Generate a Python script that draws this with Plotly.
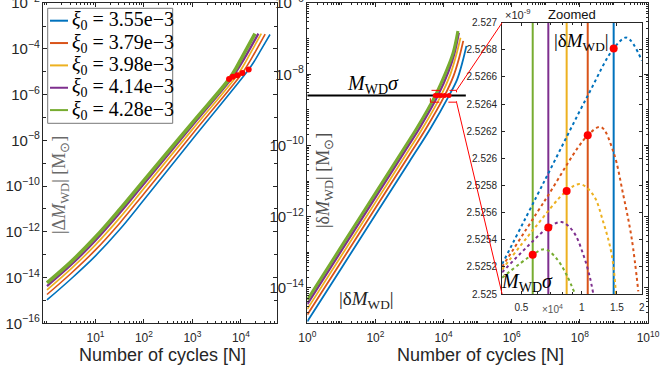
import math
import plotly.graph_objects as go

W, H = 670, 374

# ---------------- data ----------------
colors = ["#0072BD", "#D95319", "#EDB120", "#7E2F8E", "#77AC30"]
xi0_labels = ["3.55e\u22123", "3.79e\u22123", "3.98e\u22123", "4.14e\u22123", "4.28e\u22123"]

# cycles where |dM_WD| reaches M_WD*sigma (blue, orange, yellow, purple, green)
N_cross = [14450, 10720, 8410, 6810, 5690]
dM_cross = [2.52681e-9, 2.52617e-9, 2.52576e-9, 2.52549e-9, 2.52529e-9]
DM_cross = [1.26e-5, 8.91e-6, 7.08e-6, 6.03e-6, 4.79e-6]
M_WD_sigma = 2.525e-9
sigma_line_N = [1, 45000]

# left panel |Delta M_WD|
N_L_blue = [1, 3.16, 10, 31.6, 100, 1000, 14450, 19500, 24500, 39800]
DM_blue = [1.05e-15, 8.91e-15, 8.91e-14, 1.26e-12, 2.51e-11, 1.12e-8, 1.26e-5, 3.24e-5, 7.41e-5, 4.27e-4]
N_L_orange = [1, 3.16, 10, 31.6, 100, 1000, 10720, 14800, 18900, 31600]
DM_orange = [1.82e-15, 1.55e-14, 1.62e-13, 2.40e-12, 4.68e-11, 1.91e-8, 8.91e-6, 2.57e-5, 6.31e-5, 4.47e-4]
N_L_yellow = [1, 3.16, 10, 31.6, 100, 1000, 8410, 11800, 15300, 26300]
DM_yellow = [2.88e-15, 2.46e-14, 2.69e-13, 4.07e-12, 7.94e-11, 3.02e-8, 7.08e-6, 2.19e-5, 5.89e-5, 4.68e-4]
N_L_purple = [1, 3.16, 10, 31.6, 100, 1000, 6810, 9700, 12900, 22900]
DM_purple = [4.27e-15, 3.63e-14, 4.17e-13, 6.61e-12, 1.26e-10, 4.57e-8, 6.03e-6, 1.95e-5, 5.37e-5, 4.68e-4]
N_L_green = [1, 3.16, 10, 31.6, 100, 1000, 5690, 8200, 10800, 19500]
DM_green = [5.89e-15, 5.01e-14, 5.89e-13, 9.55e-12, 1.78e-10, 6.03e-8, 4.79e-6, 1.62e-5, 4.79e-5, 4.68e-4]

# middle panel |delta M_WD|
N_M_blue = [1, 10, 100, 1000, 4070, 14450, 25100, 35500, 46800]
dM_blue = [1.12e-15, 3.55e-14, 1.12e-12, 3.55e-11, 2.95e-10, 2.52681e-9, 7.24e-9, 2.14e-8, 6.31e-8]
N_M_orange = [1, 10, 100, 1000, 3020, 10720, 19500, 28200, 37800]
dM_orange = [1.74e-15, 5.50e-14, 1.74e-12, 5.50e-11, 2.95e-10, 2.52617e-9, 8.91e-9, 2.75e-8, 8.71e-8]
N_M_yellow = [1, 10, 100, 1000, 2370, 8410, 15800, 22900, 31400]
dM_yellow = [2.51e-15, 7.94e-14, 2.51e-12, 7.94e-11, 2.95e-10, 2.52576e-9, 1.00e-8, 3.16e-8, 1.07e-7]
N_M_purple = [1, 10, 100, 1000, 1920, 6810, 13800, 20400, 28000]
dM_purple = [3.47e-15, 1.10e-13, 3.47e-12, 1.10e-10, 2.95e-10, 2.52549e-9, 1.17e-8, 3.63e-8, 1.48e-7]
N_M_green = [1, 10, 100, 1000, 1600, 5690, 12600, 19100, 26300]
dM_green = [4.57e-15, 1.45e-13, 4.57e-12, 1.45e-10, 2.95e-10, 2.52529e-9, 1.38e-8, 4.07e-8, 1.66e-7]

# zoomed inset (dotted curves)
N_Z_blue = [4000, 6550, 10790, 14450, 16790, 20000]
dZ_blue = [2.52522e-9, 2.52584e-9, 2.52647e-9, 2.52681e-9, 2.52689e-9, 2.52672e-9]
N_Z_orange = [4000, 6550, 10720, 12490, 14390, 16140, 17780, 19190]
dZ_orange = [2.52520e-9, 2.52569e-9, 2.52617e-9, 2.52623e-9, 2.52605e-9, 2.52573e-9, 2.52541e-9, 2.52502e-9]
N_Z_yellow = [4000, 5840, 8410, 9810, 11430, 12820, 14130, 14840]
dZ_yellow = [2.52518e-9, 2.52549e-9, 2.52576e-9, 2.52581e-9, 2.52573e-9, 2.52553e-9, 2.52529e-9, 2.52500e-9]
N_Z_purple = [4000, 5270, 6810, 7940, 9080, 10190, 11000, 11430]
dZ_purple = [2.52516e-9, 2.52534e-9, 2.52549e-9, 2.52553e-9, 2.52546e-9, 2.52529e-9, 2.52512e-9, 2.52500e-9]
N_Z_green = [4000, 5690, 6550, 7500, 8410, 9260]
dZ_green = [2.52512e-9, 2.52529e-9, 2.52533e-9, 2.52526e-9, 2.52514e-9, 2.52500e-9]

inset_yticks = [2.525e-9, 2.5252e-9, 2.5254e-9, 2.5256e-9, 2.5258e-9, 2.526e-9,
                2.5262e-9, 2.5264e-9, 2.5266e-9, 2.5268e-9, 2.527e-9]
inset_yticktext = ["2.525", "2.5252", "2.5254", "2.5256", "2.5258", "2.526",
                   "2.5262", "2.5264", "2.5266", "2.5268", "2.527"]
inset_xticks = [5000, 10000, 15000, 20000]
inset_xticktext = ["0.5", "1", "1.5", "2"]
left_xticks = [10, 100, 1000, 10000]
left_xticktext = ["10<sup>1</sup>", "10<sup>2</sup>", "10<sup>3</sup>", "10<sup>4</sup>"]
mid_xticks = [1, 1e2, 1e4, 1e6, 1e8, 1e10]
mid_xticktext = ["10<sup>0</sup>", "10<sup>2</sup>", "10<sup>4</sup>", "10<sup>6</sup>",
                 "10<sup>8</sup>", "10<sup>10</sup>"]

left_N = [N_L_blue, N_L_orange, N_L_yellow, N_L_purple, N_L_green]
left_DM = [DM_blue, DM_orange, DM_yellow, DM_purple, DM_green]
mid_N = [N_M_blue, N_M_orange, N_M_yellow, N_M_purple, N_M_green]
mid_dM = [dM_blue, dM_orange, dM_yellow, dM_purple, dM_green]
zoom_N = [N_Z_blue, N_Z_orange, N_Z_yellow, N_Z_purple, N_Z_green]
zoom_dM = [dZ_blue, dZ_orange, dZ_yellow, dZ_purple, dZ_green]

# ---------------- layout helpers ----------------
def px(x):
    return x / W

def py(y):
    return 1 - y / H

L_xdom = [px(43.3), px(277.3)]
ydom = [py(323.3), py(3.2)]
M_xdom = [px(307.3), px(648)]
Z_xdom = [px(502.1), px(641.9)]
Z_ydom = [py(294), py(22.7)]

L_xr = [-0.076, 4.75]
L_yr = [-16, -2]
M_xr = [0, 10]
M_yr = [-15, -6]
Z_xr = [math.log10(4000), math.log10(20000)]
Z_yr = [2.525e-9, 2.527e-9]

def logpaper(v, dom, rng):
    return dom[0] + (math.log10(v) - rng[0]) / (rng[1] - rng[0]) * (dom[1] - dom[0])

SANS = "Liberation Sans, Arial, sans-serif"
SERIF = "Liberation Serif, Times New Roman, serif"
AX = "#262626"

fig = go.Figure()

lw_left = [1.6, 1.6, 1.7, 2.3, 3.6]
lw_mid = [1.8, 1.8, 1.8, 2.3, 3.0]

for i in range(5):
    fig.add_trace(go.Scatter(x=left_N[i], y=left_DM[i], mode="lines",
                             line=dict(color=colors[i], width=lw_left[i], shape="spline"),
                             xaxis="x", yaxis="y", showlegend=False, hoverinfo="skip"))
fig.add_trace(go.Scatter(x=N_cross, y=DM_cross, mode="markers",
                         marker=dict(color="#ff0000", size=6),
                         xaxis="x", yaxis="y", showlegend=False))

for i in range(5):
    fig.add_trace(go.Scatter(x=mid_N[i], y=mid_dM[i], mode="lines",
                             line=dict(color=colors[i], width=lw_mid[i], shape="spline"),
                             xaxis="x2", yaxis="y2", showlegend=False, hoverinfo="skip"))
fig.add_trace(go.Scatter(x=sigma_line_N, y=[M_WD_sigma, M_WD_sigma], mode="lines",
                         line=dict(color="black", width=2),
                         xaxis="x2", yaxis="y2", showlegend=False))
fig.add_trace(go.Scatter(x=N_cross, y=dM_cross, mode="markers",
                         marker=dict(color="#ff0000", size=5),
                         xaxis="x2", yaxis="y2", showlegend=False))

# inset
for i in range(5):
    fig.add_trace(go.Scatter(x=[N_cross[i], N_cross[i]], y=[Z_yr[0], Z_yr[1]], mode="lines",
                             line=dict(color=colors[i], width=2),
                             xaxis="x3", yaxis="y3", showlegend=False))
for i in range(5):
    fig.add_trace(go.Scatter(x=zoom_N[i], y=zoom_dM[i], mode="lines",
                             line=dict(color=colors[i], width=2, dash="dot", shape="spline"),
                             xaxis="x3", yaxis="y3", showlegend=False))
fig.add_trace(go.Scatter(x=N_cross, y=dM_cross, mode="markers",
                         marker=dict(color="#ff0000", size=8),
                         xaxis="x3", yaxis="y3", showlegend=False))

def axis_common(**kw):
    d = dict(showline=True, linecolor=AX, linewidth=1, mirror="allticks",
             ticks="inside", ticklen=4, tickcolor=AX, tickwidth=1,
             showgrid=False, zeroline=False, ticklabeloverflow="allow",
             tickfont=dict(family=SANS, size=12, color=AX))
    d.update(kw)
    return d

minor_log = dict(ticks="inside", ticklen=2, tickcolor=AX, dtick="D1", showgrid=False)

fig.update_layout(
    width=W, height=H, template="none",
    paper_bgcolor="white", plot_bgcolor="white",
    margin=dict(l=0, r=0, t=0, b=0),
    showlegend=False,
    xaxis=axis_common(type="log", domain=L_xdom, range=L_xr, anchor="y",
                      tickmode="array", tickvals=left_xticks, ticktext=left_xticktext,
                      ticklabelstandoff=3, minor=minor_log),
    yaxis=axis_common(type="log", domain=ydom, range=L_yr, anchor="x",
                      dtick=2, exponentformat="power",
                      minor=dict(ticks="inside", ticklen=3, tickcolor=AX, dtick=1, showgrid=False)),
    xaxis2=axis_common(type="log", domain=M_xdom, range=M_xr, anchor="y2",
                       tickmode="array", tickvals=mid_xticks, ticktext=mid_xticktext,
                       ticklabelstandoff=3, minor=minor_log),
    yaxis2=axis_common(type="log", domain=ydom, range=M_yr, anchor="x2",
                       dtick=2, exponentformat="power", minor=minor_log),
    xaxis3=axis_common(type="log", domain=Z_xdom, range=Z_xr, anchor="y3",
                       tickmode="array", tickvals=inset_xticks, ticktext=inset_xticktext,
                       ticklen=3, ticklabelstandoff=4,
                       tickfont=dict(family=SANS, size=10, color=AX),
                       minor=minor_log),
    yaxis3=axis_common(domain=Z_ydom, range=Z_yr, anchor="x3",
                       tickmode="array", tickvals=inset_yticks, ticktext=inset_yticktext,
                       ticklen=3, ticklabelstandoff=2,
                       tickfont=dict(family=SANS, size=10, color=AX)),
)

shapes = []
annotations = []

# legend (manual)
leg_top, leg_step = 20.7, 22.35
shapes.append(dict(type="rect", xref="paper", yref="paper",
                   x0=px(47.7), x1=px(172.7), y0=py(123.3), y1=py(8.3),
                   line=dict(color="#777777", width=1), fillcolor="white", layer="above"))
for i in range(5):
    yy = leg_top + i * leg_step
    shapes.append(dict(type="line", xref="paper", yref="paper",
                       x0=px(50), x1=px(68), y0=py(yy), y1=py(yy),
                       line=dict(color=colors[i], width=2), layer="above"))
    annotations.append(dict(xref="paper", yref="paper", x=px(69.5), y=py(yy),
                            xanchor="left", yanchor="middle", showarrow=False,
                            text="<i>\u03be</i><sub>0</sub> = " + xi0_labels[i],
                            font=dict(family=SERIF, size=20, color="black")))

# zoom rectangle and connectors
rx0, rx1, ry0, ry1 = 4100, 24000, 1.65e-9, 3.55e-9
shapes.append(dict(type="rect", xref="x2", yref="y2", x0=rx0, x1=rx1, y0=ry0, y1=ry1,
                   line=dict(color="#ff0000", width=1, dash="dash"), layer="above"))
rxp = logpaper(rx1, M_xdom, M_xr)
shapes.append(dict(type="line", xref="paper", yref="paper",
                   x0=rxp, y0=logpaper(ry1, ydom, M_yr), x1=Z_xdom[0], y1=Z_ydom[1],
                   line=dict(color="#ff0000", width=1), layer="above"))
shapes.append(dict(type="line", xref="paper", yref="paper",
                   x0=rxp, y0=logpaper(ry0, ydom, M_yr), x1=Z_xdom[0], y1=Z_ydom[0],
                   line=dict(color="#ff0000", width=1), layer="above"))

def ann(x, y, text, size, family=SERIF, color="black", angle=0, xa="center", ya="middle"):
    annotations.append(dict(xref="paper", yref="paper", x=px(x), y=py(y), text=text,
                            showarrow=False, textangle=angle, xanchor=xa, yanchor=ya,
                            font=dict(family=family, size=size, color=color)))

ann(60, 185, "|\u0394<i>M</i><sub>WD</sub>| [M<sub>\u2299</sub>]", 18, color="#6a6a6a", angle=-90)
ann(325, 181, "|\u03b4<i>M</i><sub>WD</sub>| [M<sub>\u2299</sub>]", 18, color="#505050", angle=-90)
ann(373, 84, "<i>M</i><sub>WD</sub><i>\u03c3</i>", 20)
ann(366, 300, "|\u03b4<i>M</i><sub>WD</sub>|", 19, color="#222222")
ann(581, 42, "|\u03b4<i>M</i><sub>WD</sub>|", 19)
ann(527, 282, "<i>M</i><sub>WD</sub><i>\u03c3</i>", 20)
ann(572, 14, "Zoomed", 13, family=SANS, color="#111111")
ann(503, 14, "\u00d710<sup>-9</sup>", 11, family=SANS, color=AX, xa="left")
ann(552, 309, "\u00d710<sup>4</sup>", 10, family=SANS, color="#555555")
ann(162, 355, "Number of cycles [N]", 18, family=SANS, color=AX)
ann(480, 355, "Number of cycles [N]", 18, family=SANS, color=AX)

fig.update_layout(shapes=shapes, annotations=annotations)
fig.write_html("out.html")
